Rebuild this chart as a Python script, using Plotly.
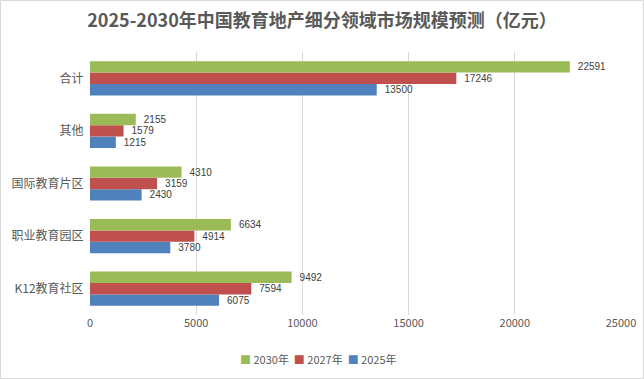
import plotly.graph_objects as go

categories = ["K12教育社区", "职业教育园区", "国际教育片区", "其他", "合计"]
v2025 = [6075, 3780, 2430, 1215, 13500]
v2027 = [7594, 4914, 3159, 1579, 17246]
v2030 = [9492, 6634, 4310, 2155, 22591]
tick_vals = [0, 5000, 10000, 15000, 20000, 25000]
tick_text = ["0", "5000", "10000", "15000", "20000", "25000"]

FONT = "Noto Sans CJK SC, sans-serif"
NUMFONT = "Liberation Sans, Arial, sans-serif"
fig = go.Figure()
series = [("2025年", v2025, "#4F81BD"), ("2027年", v2027, "#C0504D"), ("2030年", v2030, "#9BBB59")]
for name, vals, col in series:
    fig.add_trace(go.Bar(
        y=categories, x=vals, name=name, orientation="h",
        marker=dict(color=col, line=dict(width=0)),
        text=["\u2002" + str(v) for v in vals], textposition="outside",
        constraintext="none",
        textfont=dict(size=10, color="#404040", family=NUMFONT),
        cliponaxis=False, showlegend=False,
    ))

legend_html = "  ".join(
    f'<span style="color:{col}">■</span> {name}' for name, _, col in reversed(series)
)

fig.update_layout(
    width=644, height=379,
    margin=dict(l=90, r=23, t=52, b=64, autoexpand=False),
    paper_bgcolor="white", plot_bgcolor="white",
    barmode="group", bargap=0.35, bargroupgap=0,
    font=dict(family=FONT, color="#595959", size=11),
    title=dict(text="<b>2025-2030年中国教育地产细分领域市场规模预测（亿元）</b>",
               x=0.5, xanchor="center", y=1 - 21/379, yanchor="middle",
               font=dict(size=18, color="#595959", family=FONT)),
    annotations=[dict(text=legend_html, xref="paper", yref="paper",
                      x=(318 - 90) / 531, y=-44 / 263, xanchor="center", yanchor="middle",
                      showarrow=False, font=dict(size=11, color="#595959", family=FONT))],
    xaxis=dict(range=[0, 25000], tickvals=tick_vals, ticktext=tick_text, showgrid=True,
               gridcolor="#D9D9D9", gridwidth=1, zeroline=False, automargin=False,
               showline=False, ticks="", tickfont=dict(size=11, color="#595959")),
    yaxis=dict(showgrid=False, showline=False, ticks="", ticksuffix="  ", automargin=False,
               tickfont=dict(size=12, color="#595959")),
    shapes=[dict(type="rect", xref="paper", yref="paper", x0=-89.5/531, x1=1+22.5/531,
                 y0=-63.5/263, y1=1+51.5/263, line=dict(color="#D9D9D9", width=1))],
)
fig.write_html("out.html", config={"displayModeBar": False},
               post_script="document.body.style.margin='0';document.body.style.overflow='hidden';")
